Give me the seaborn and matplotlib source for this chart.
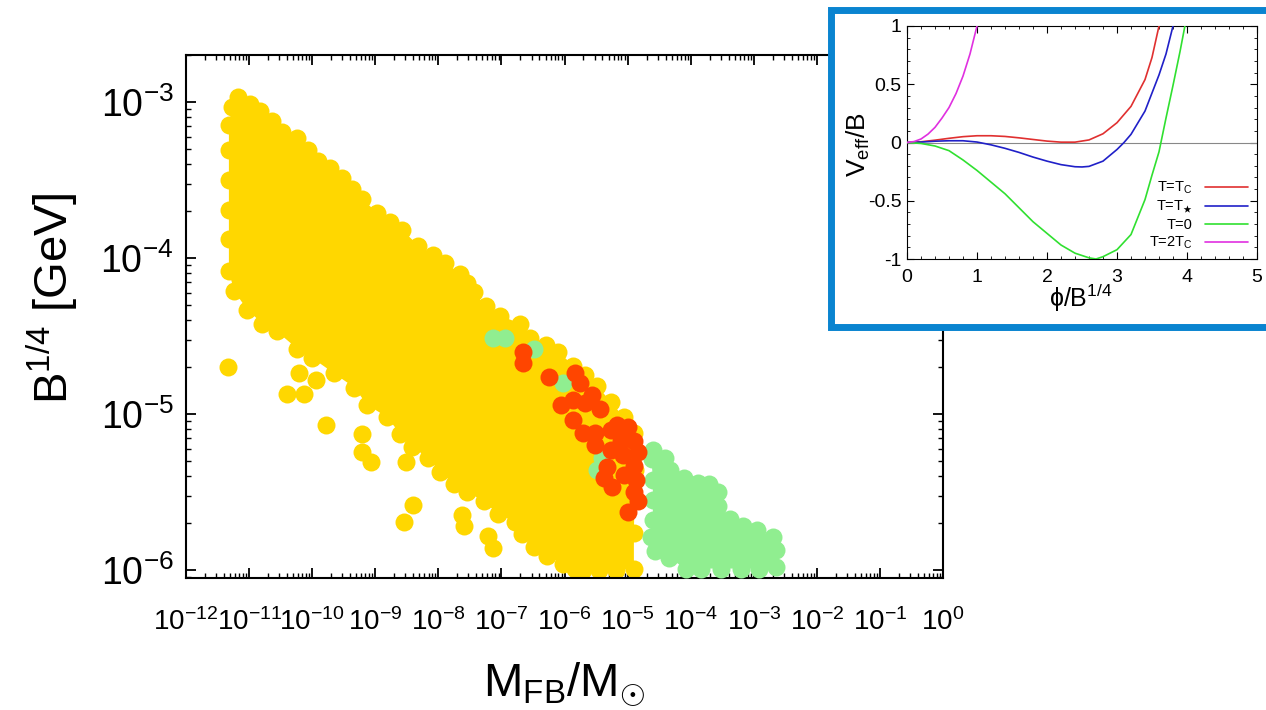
import numpy as np
import pandas as pd
import matplotlib
matplotlib.use("Agg")
import matplotlib.pyplot as plt
import seaborn as sns
from matplotlib.patches import Rectangle
from matplotlib.ticker import (LogLocator, LogFormatterSciNotation, NullFormatter,
                               FixedLocator, MultipleLocator)

# ---------------- main panel data (log10 values) ----------------
# yellow: outline of the dense scan region (centres of the outermost points, clockwise)
yellow_edge_logM = [-11.17, -10.98, -10.83, -10.63, -10.48, -10.24, -10.06, -9.90, -9.71, -9.52,
                    -9.37, -9.21, -8.97, -8.76, -8.57, -8.32, -8.08, -7.90, -7.65, -7.54,
                    -7.43, -7.25, -7.02, -6.70, -6.54, -6.30, -6.10, -5.86, -5.67, -5.48,
                    -5.27, -5.06, -4.90, -4.89, -4.89, -4.89, -4.90, -4.90,
                    -5.19, -5.46, -5.71,
                    -5.84, -6.03, -6.27, -6.48, -6.67, -6.79, -7.06, -7.27, -7.54, -7.75,
                    -7.97, -8.17, -8.41, -8.60, -8.81, -9.13, -9.33, -9.65, -10.00, -10.24,
                    -10.56, -10.79, -11.03, -11.24,
                    -11.32, -11.32, -11.32, -11.32, -11.32, -11.32, -11.27]
yellow_edge_logB = [-2.97, -3.01, -3.06, -3.12, -3.19, -3.23, -3.31, -3.38, -3.42, -3.49,
                    -3.56, -3.62, -3.71, -3.77, -3.82, -3.92, -3.98, -4.03, -4.10, -4.16,
                    -4.22, -4.31, -4.37, -4.42, -4.51, -4.56, -4.60, -4.69, -4.75, -4.82,
                    -4.92, -5.02, -5.12, -5.23, -5.36, -5.55, -5.76, -5.99,
                    -6.00, -6.00, -6.00,
                    -5.99, -5.96, -5.91, -5.85, -5.77, -5.69, -5.64, -5.56, -5.50, -5.45,
                    -5.37, -5.28, -5.21, -5.13, -5.02, -4.94, -4.83, -4.74, -4.64, -4.58,
                    -4.47, -4.42, -4.33, -4.21,
                    -4.08, -3.88, -3.69, -3.50, -3.31, -3.15, -3.03]
# yellow: isolated points outside the dense region
yellow_out_logM = [-11.33, -10.21, -9.94, -10.40, -10.13, -9.78, -9.21, -9.21, -9.06, -8.52,
                   -8.40, -8.54, -7.62, -7.59, -7.22, -7.13]
yellow_out_logB = [-4.70, -4.74, -4.78, -4.87, -4.87, -5.07, -5.13, -5.24, -5.31, -5.31,
                   -5.58, -5.69, -5.65, -5.72, -5.78, -5.86]

# green: outline of the heavy-mass region
green_edge_logM = [-4.60, -4.40, -4.32, -4.10, -3.89, -3.71, -3.56, -3.56, -3.37, -3.17,
                   -2.95, -2.70, -2.65, -2.65,
                   -2.92, -3.21, -3.52, -3.84, -4.08,
                   -4.35, -4.56, -4.63, -4.60, -4.60, -4.60, -4.62]
green_edge_logB = [-5.23, -5.28, -5.36, -5.41, -5.44, -5.45, -5.50, -5.59, -5.67, -5.72,
                   -5.74, -5.79, -5.87, -5.98,
                   -5.99, -5.99, -5.99, -5.99, -5.99,
                   -5.92, -5.88, -5.79, -5.68, -5.55, -5.42, -5.29]
# green: points lying on top of the yellow region
green_in_logM = [-7.13, -6.94, -6.49, -6.02, -5.48, -5.40]
green_in_logB = [-4.51, -4.51, -4.58, -4.80, -5.36, -5.28]

# red points
red_logM = [-6.65, -6.65, -6.25, -5.84, -5.75, -5.56, -6.06, -5.86, -5.67, -5.43,
            -5.87, -5.71, -5.51, -5.51, -5.27, -5.16, -5.00, -4.90, -4.84, -5.11,
            -5.27, -5.08, -4.90, -5.32, -5.38, -5.24, -5.06, -4.87, -4.90, -4.83, -5.00]
red_logB = [-4.60, -4.67, -4.76, -4.74, -4.80, -4.88, -4.94, -4.91, -4.93, -4.97,
            -5.04, -5.12, -5.12, -5.20, -5.10, -5.07, -5.08, -5.17, -5.24, -5.17,
            -5.23, -5.26, -5.33, -5.34, -5.41, -5.47, -5.39, -5.42, -5.50, -5.56, -5.63]

main_xticks = [1e-12, 1e-11, 1e-10, 1e-9, 1e-8, 1e-7, 1e-6, 1e-5, 1e-4, 1e-3, 1e-2, 1e-1, 1e0]
main_yticks = [1e-6, 1e-5, 1e-4, 1e-3]

# ---------------- inset data ----------------
phi_tc = [0, 0.2, 0.4, 0.6, 0.8, 1.0, 1.2, 1.4, 1.6, 1.8, 2.0, 2.2, 2.4, 2.6, 2.8, 3.0, 3.2, 3.4, 3.5, 3.6]
v_tc = [0, 0.006, 0.02, 0.036, 0.05, 0.058, 0.058, 0.052, 0.04, 0.026, 0.012, 0.003, 0.003, 0.022,
        0.075, 0.17, 0.31, 0.54, 0.73, 1.0]
phi_ts = [0, 0.2, 0.4, 0.6, 0.8, 1.0, 1.2, 1.4, 1.6, 1.8, 2.0, 2.2, 2.4, 2.5, 2.6, 2.8, 3.0, 3.1,
          3.2, 3.4, 3.6, 3.7, 3.8]
v_ts = [0, 0.004, 0.011, 0.015, 0.015, 0.004, -0.02, -0.05, -0.085, -0.125, -0.16, -0.19, -0.208,
        -0.21, -0.205, -0.16, -0.06, 0.0, 0.07, 0.27, 0.58, 0.76, 1.0]
phi_t0 = [0, 0.2, 0.4, 0.6, 0.8, 1.0, 1.2, 1.4, 1.6, 1.8, 2.0, 2.2, 2.4, 2.6, 2.7, 2.8, 3.0, 3.2,
          3.4, 3.5, 3.6, 3.7, 3.8, 3.9, 3.97]
v_t0 = [0, -0.008, -0.03, -0.07, -0.15, -0.24, -0.34, -0.44, -0.56, -0.68, -0.78, -0.88, -0.95,
        -0.99, -1.0, -0.98, -0.92, -0.79, -0.49, -0.28, -0.08, 0.21, 0.49, 0.78, 1.0]
phi_2tc = [0, 0.1, 0.2, 0.3, 0.4, 0.5, 0.6, 0.7, 0.8, 0.9, 1.0]
v_2tc = [0, 0.008, 0.03, 0.072, 0.13, 0.21, 0.30, 0.42, 0.57, 0.76, 1.0]

inset_labels = ["T=$\\mathrm{T_{C}}$", "T=$\\mathrm{T_{\\bigstar}}$", "T=0", "T=2$\\mathrm{T_{C}}$"]
inset_colors = ["#e03030", "#2020c8", "#30e030", "#e030e0"]
inset_xticks = [0, 1, 2, 3, 4, 5]
inset_xticklabels = ["0", "1", "2", "3", "4", "5"]
inset_yticks = [-1, -0.5, 0, 0.5, 1]
inset_yticklabels = ["-1", "-0.5", "0", "0.5", "1"]

GOLD = "#ffd700"
LGREEN = "#90ee90"
ORED = "#ff4500"

# ---------------- style ----------------
sns.set_theme(style="ticks")
plt.rcParams['font.family'] = ['Liberation Sans', 'DejaVu Sans']
plt.rcParams['mathtext.fontset'] = 'custom'
plt.rcParams['mathtext.rm'] = 'Liberation Sans'
plt.rcParams['mathtext.it'] = 'Liberation Sans:italic'
plt.rcParams['mathtext.bf'] = 'Liberation Sans:bold'
plt.rcParams['mathtext.sf'] = 'Liberation Sans'
for k in ['text.color', 'axes.labelcolor', 'xtick.color', 'ytick.color', 'axes.edgecolor']:
    plt.rcParams[k] = 'black'

W, H = 1266, 710
fig = plt.figure(figsize=(W / 100, H / 100), dpi=100)
fig.patch.set_facecolor("white")

ax = fig.add_axes([186 / W, (H - 578) / H, 757 / W, 523 / H], zorder=0)
ax.set_xscale("log")
ax.set_yscale("log")

def tolin(v):
    return [10 ** x for x in v]

S = 168
ax.fill(tolin(yellow_edge_logM), tolin(yellow_edge_logB), color=GOLD, lw=0, zorder=1)
sns.scatterplot(x=tolin(yellow_edge_logM), y=tolin(yellow_edge_logB), color=GOLD, s=S,
                linewidth=0, ax=ax, legend=False, zorder=2)
sns.scatterplot(x=tolin(yellow_out_logM), y=tolin(yellow_out_logB), color=GOLD, s=S,
                linewidth=0, ax=ax, legend=False, zorder=2)
ax.fill(tolin(green_edge_logM), tolin(green_edge_logB), color=LGREEN, lw=0, zorder=3)
sns.scatterplot(x=tolin(green_edge_logM), y=tolin(green_edge_logB), color=LGREEN, s=S,
                linewidth=0, ax=ax, legend=False, zorder=4)
sns.scatterplot(x=tolin(green_in_logM), y=tolin(green_in_logB), color=LGREEN, s=S,
                linewidth=0, ax=ax, legend=False, zorder=4)
sns.scatterplot(x=tolin(red_logM), y=tolin(red_logB), color=ORED, s=S,
                linewidth=0, ax=ax, legend=False, zorder=5)

ax.set_xlim(1e-12, 1)
ax.set_ylim(8.9e-7, 2.0e-3)
ax.xaxis.set_major_locator(FixedLocator(main_xticks))
ax.yaxis.set_major_locator(FixedLocator(main_yticks))
ax.xaxis.set_major_formatter(LogFormatterSciNotation())
ax.yaxis.set_major_formatter(LogFormatterSciNotation())
ax.xaxis.set_minor_locator(LogLocator(base=10, subs=np.arange(2, 10), numticks=200))
ax.yaxis.set_minor_locator(LogLocator(base=10, subs=np.arange(2, 10), numticks=200))
ax.xaxis.set_minor_formatter(NullFormatter())
ax.yaxis.set_minor_formatter(NullFormatter())
ax.tick_params(which="both", direction="in", top=True, right=True, color="black")
ax.tick_params(which="major", length=7, width=1.3)
ax.tick_params(which="minor", length=3.5, width=1.0)
ax.tick_params(axis="y", which="major", labelsize=27, pad=9, labelcolor="black")
ax.tick_params(axis="x", which="major", labelsize=20, pad=22, labelcolor="black")
for sp in ax.spines.values():
    sp.set_linewidth(1.5)
    sp.set_color("black")
ax.set_facecolor("white")

ax.set_ylabel(r"$\mathrm{B^{1/4}}$ [GeV]", fontsize=34, color="black")
ax.yaxis.set_label_coords(-0.14, 0.535)
ax.set_xlabel(r"$\mathrm{M_{FB}/M_{\odot}}$", fontsize=34, color="black")
ax.xaxis.set_label_coords(0.5, -0.157)

# ---------------- inset frame ----------------
frame = Rectangle((830.5 / W, (H - 326.5) / H), 0.5, (326.5 - 9.5) / H,
                  transform=fig.transFigure, facecolor="white", edgecolor="#0a84d0",
                  linewidth=5.0, zorder=2)
fig.add_artist(frame)

axin = fig.add_axes([907 / W, (H - 259) / H, 350 / W, 233 / H], zorder=3)
axin.axhline(0, color="#888888", lw=0.8, zorder=1)
curves = [(phi_tc, v_tc), (phi_ts, v_ts), (phi_t0, v_t0), (phi_2tc, v_2tc)]
for (px, py), lab, col in zip(curves, inset_labels, inset_colors):
    sns.lineplot(x=px, y=py, color=col, lw=1.2, ax=axin, label=lab, zorder=3)
axin.set_xlim(0, 5)
axin.set_ylim(-1, 1)
axin.xaxis.set_major_locator(FixedLocator(inset_xticks))
axin.set_xticklabels(inset_xticklabels)
axin.yaxis.set_major_locator(FixedLocator(inset_yticks))
axin.set_yticklabels(inset_yticklabels)
axin.xaxis.set_minor_locator(MultipleLocator(0.2))
axin.yaxis.set_minor_locator(MultipleLocator(0.1))
axin.tick_params(which="both", direction="in", top=True, right=True, color="black")
axin.tick_params(which="major", length=5, width=0.8, labelsize=14, labelcolor="black")
axin.tick_params(which="minor", length=2.5, width=0.6)
axin.tick_params(axis="y", pad=4)
axin.tick_params(axis="x", pad=7)
for sp in axin.spines.values():
    sp.set_linewidth(0.8)
    sp.set_color("black")
axin.set_facecolor("white")
axin.set_ylabel(r"$\mathrm{V_{eff}}$/B", fontsize=19, color="black")
axin.yaxis.set_label_coords(-0.10, 0.49)
axin.set_xlabel("\u03d5/B$^{\\mathrm{1/4}}$", fontsize=18, color="black")
axin.xaxis.set_label_coords(0.497, -0.10)
leg = axin.legend(loc="lower right", bbox_to_anchor=(1.0, -0.005), frameon=False,
                  markerfirst=False, fontsize=10.5, handlelength=3.0, labelspacing=0.18,
                  handletextpad=0.8, borderaxespad=0.2)
for t in leg.get_texts():
    t.set_ha("right")
    t.set_color("black")

fig.savefig("out.png", dpi=100, facecolor="white")
